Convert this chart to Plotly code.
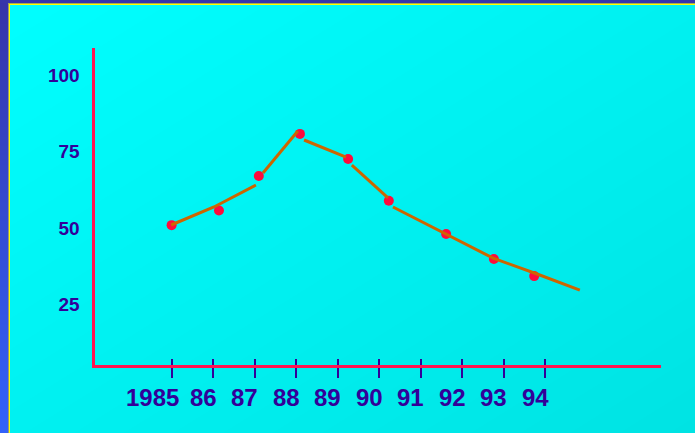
import base64
import struct
import zlib

import numpy as np
import plotly.graph_objects as go

# ---- data ---------------------------------------------------------------
years = [1985, 1986, 1987, 1988, 1989, 1990, 1991, 1992, 1993, 1994]
year_labels = ["1985", "86", "87", "88", "89", "90", "91", "92", "93", "94"]
value_ticks = [25, 50, 75, 100]

# observed points
point_year = [1985.0, 1986.14, 1987.10, 1988.09, 1989.25, 1990.23, 1991.61, 1992.76, 1993.73]
point_value = [50.9, 55.7, 67.0, 80.8, 72.6, 58.9, 48.0, 39.8, 34.2]

# hand-drawn trend line (None = break between strokes)
trend_year = [1984.99, 1986.02, 1987.03, None, 1987.20, 1988.04, None, 1988.19, 1989.20,
              None, 1989.34, 1990.21, None, 1990.33, 1991.46, 1992.74, 1993.80, 1994.83]
trend_value = [50.95, 56.85, 64.06, None, 68.0, 81.75, None, 78.8, 73.2,
               None, 70.6, 59.8, None, 56.85, 49.0, 40.1, 34.9, 29.6]

# ---- style ----------------------------------------------------------------
RED = "#FF1450"
POINT_RED = "#FF0A3C"
ORANGE = "#CC6600"
INK = "#330099"
FONT = "Liberation Sans, Arial, sans-serif"
W, H = 695, 433


def png_data_uri(rgb):
    """Encode an HxWx3 uint8 array as a PNG data URI (Sub filter)."""
    h, w, _ = rgb.shape
    a = rgb.astype(np.int16)
    sub = a.copy()
    sub[:, 1:, :] = a[:, 1:, :] - a[:, :-1, :]
    sub = (sub % 256).astype(np.uint8)
    raw = np.concatenate([np.ones((h, 1), np.uint8), sub.reshape(h, w * 3)], axis=1).tobytes()

    def chunk(tag, data):
        return (struct.pack(">I", len(data)) + tag + data
                + struct.pack(">I", zlib.crc32(tag + data) & 0xFFFFFFFF))

    png = (b"\x89PNG\r\n\x1a\n"
           + chunk(b"IHDR", struct.pack(">IIBBBBB", w, h, 8, 2, 0, 0, 0))
           + chunk(b"IDAT", zlib.compress(raw, 9))
           + chunk(b"IEND", b""))
    return "data:image/png;base64," + base64.b64encode(png).decode()


# slide background: diagonal cyan gradient with blue/yellow frame
yy, xx = np.mgrid[0:H, 0:W].astype(float)
t = 0.5 * (xx / (W - 1) + yy / (H - 1))
bg = np.zeros((H, W, 3))
bg[..., 1] = 255 - 28 * t
bg[..., 2] = 255 - 28 * t
v = yy[:, :8] / (H - 1)
bg[:, :8, 0] = 0x36 + (0x33 - 0x36) * v
bg[:, :8, 1] = 0x34 + (0x62 - 0x34) * v
bg[:, :8, 2] = 0xA8 + (0xFA - 0xA8) * v
bg[:, 8] = (150, 150, 120)
bg[:, 9] = (255, 255, 0)
bg[:3, :] = (0x36, 0x36, 0xAA)
bg[3, 8:] = (170, 170, 80)
bg[4, 9:] = (255, 255, 0)
bg_uri = png_data_uri(np.clip(np.round(bg), 0, 255).astype(np.uint8))

# ---- figure -------------------------------------------------------------------
fig = go.Figure()
fig.add_trace(go.Scatter(
    x=point_year, y=point_value, mode="markers",
    marker=dict(size=10, color=POINT_RED), hoverinfo="x+y",
))
fig.add_trace(go.Scatter(
    x=trend_year, y=trend_value, mode="lines", connectgaps=False,
    line=dict(color=ORANGE, width=3), hoverinfo="skip",
))
# carrier for the upper half of the tick marks
fig.add_trace(go.Scatter(x=[years[0]], y=[None], xaxis="x2", mode="markers",
                         hoverinfo="skip", showlegend=False))

# year labels sit a little to the left of their ticks; the wide first label more so
label_shift = [-19 if len(s) > 2 else -10 for s in year_labels]
year_annotations = [
    dict(x=yr, xref="x", y=0, yref="y domain", text=lab, showarrow=False,
         xanchor="center", yanchor="middle", xshift=dx, yshift=-32,
         font=dict(family=FONT, size=24, color=INK, weight="bold"))
    for yr, lab, dx in zip(years, year_labels, label_shift)
]

x_range = [1983.1435, 1996.784]
fig.update_layout(
    width=W, height=H,
    margin=dict(l=0, r=0, t=0, b=0, pad=0),
    paper_bgcolor="#00F0F0",
    plot_bgcolor="rgba(0,0,0,0)",
    showlegend=False,
    images=[dict(source=bg_uri, xref="paper", yref="paper", x=0, y=1,
                 sizex=1, sizey=1, sizing="stretch",
                 xanchor="left", yanchor="top", layer="below")],
    annotations=year_annotations,
    xaxis=dict(
        domain=[94.5 / W, 661 / W], range=x_range,
        showline=True, linecolor=RED, linewidth=3,
        showgrid=False, zeroline=False,
        tickmode="array", tickvals=years, showticklabels=False,
        ticks="outside", ticklen=10, tickwidth=2, tickcolor=INK,
        automargin=False, fixedrange=True,
    ),
    xaxis2=dict(
        overlaying="x", anchor="y", side="bottom", range=x_range,
        showline=False, showgrid=False, zeroline=False,
        tickmode="array", tickvals=years, showticklabels=False,
        ticks="inside", ticklen=6, tickwidth=2, tickcolor=INK,
        automargin=False, fixedrange=True,
    ),
    yaxis=dict(
        domain=[1 - 365 / H, 1 - 48 / H], range=[5.08, 108.94],
        showline=True, linecolor=RED, linewidth=3,
        showgrid=False, zeroline=False,
        tickmode="array", tickvals=value_ticks,
        ticktext=[str(v) for v in value_ticks],
        ticks="", ticklabelstandoff=8,
        tickfont=dict(family=FONT, size=19, color=INK, weight="bold"),
        automargin=False, fixedrange=True,
    ),
)

fig.write_html("out.html", include_plotlyjs=True, config={"displayModeBar": False})
